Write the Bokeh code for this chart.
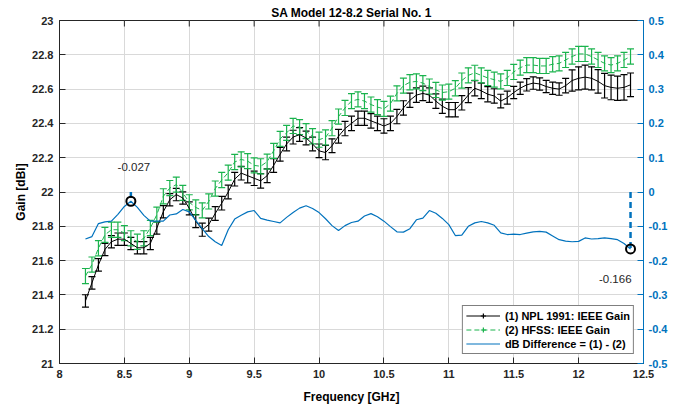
import math
from bokeh.plotting import figure
from bokeh.models import (Range1d, LinearAxis, FixedTicker, CustomJSTickFormatter,
                          ColumnDataSource, Whisker, TeeHead, Legend, LegendItem)
from bokeh.core.properties import value
from bokeh.embed import file_html
from bokeh.resources import INLINE

# ---------------- data ----------------
freq = [8.20, 8.25, 8.30, 8.35, 8.40, 8.45, 8.50, 8.55, 8.60, 8.65,
        8.70, 8.75, 8.80, 8.85, 8.90, 8.95, 9.00, 9.05, 9.10, 9.15,
        9.20, 9.25, 9.30, 9.35, 9.40, 9.45, 9.50, 9.55, 9.60, 9.65,
        9.70, 9.75, 9.80, 9.85, 9.90, 9.95, 10.00, 10.05, 10.10, 10.15,
        10.20, 10.25, 10.30, 10.35, 10.40, 10.45, 10.50, 10.55, 10.60, 10.65,
        10.70, 10.75, 10.80, 10.85, 10.90, 10.95, 11.00, 11.05, 11.10, 11.15,
        11.20, 11.25, 11.30, 11.35, 11.40, 11.45, 11.50, 11.55, 11.60, 11.65,
        11.70, 11.75, 11.80, 11.85, 11.90, 11.95, 12.00, 12.05, 12.10, 12.15,
        12.20, 12.25, 12.30, 12.35, 12.40]

npl_gain = [21.365, 21.47, 21.575, 21.665, 21.71, 21.725, 21.725, 21.70, 21.675, 21.675,
            21.70, 21.79, 21.885, 21.955, 21.985, 21.965, 21.905, 21.83, 21.78, 21.81,
            21.875, 21.935, 22.00, 22.075, 22.11, 22.095, 22.08, 22.065, 22.095, 22.155,
            22.22, 22.28, 22.32, 22.335, 22.315, 22.28, 22.24, 22.23, 22.27, 22.325,
            22.37, 22.40, 22.43, 22.43, 22.415, 22.40, 22.385, 22.40, 22.44, 22.49,
            22.535, 22.565, 22.575, 22.565, 22.53, 22.50, 22.48, 22.48, 22.52, 22.565,
            22.605, 22.59, 22.57, 22.56, 22.53, 22.55, 22.58, 22.605, 22.625, 22.635,
            22.63, 22.615, 22.605, 22.60, 22.62, 22.65, 22.663, 22.67, 22.663, 22.645,
            22.62, 22.61, 22.605, 22.61, 22.625]

npl_err = [0.036, 0.036, 0.036, 0.036, 0.036, 0.036, 0.036, 0.036, 0.036, 0.036,
           0.036, 0.036, 0.036, 0.036, 0.036, 0.036, 0.038, 0.038, 0.038, 0.038,
           0.040, 0.040, 0.040, 0.040, 0.040, 0.042, 0.042, 0.042, 0.040, 0.040,
           0.040, 0.040, 0.040, 0.040, 0.040, 0.040, 0.040, 0.042, 0.040, 0.040,
           0.042, 0.042, 0.042, 0.042, 0.042, 0.042, 0.042, 0.042, 0.042, 0.042,
           0.042, 0.042, 0.042, 0.042, 0.042, 0.042, 0.042, 0.042, 0.042, 0.044,
           0.045, 0.045, 0.044, 0.042, 0.040, 0.038, 0.036, 0.036, 0.036, 0.036,
           0.036, 0.036, 0.036, 0.036, 0.042, 0.062, 0.067, 0.070, 0.067, 0.069,
           0.072, 0.072, 0.071, 0.074, 0.069]

hfss_gain = [21.51, 21.577, 21.672, 21.75, 21.78, 21.78, 21.76, 21.73, 21.71, 21.73,
             21.79, 21.868, 21.975, 22.023, 22.043, 21.995, 21.94, 21.91, 21.893, 21.945,
             22.02, 22.07, 22.113, 22.175, 22.19, 22.18, 22.155, 22.15, 22.177, 22.24,
             22.31, 22.345, 22.385, 22.378, 22.355, 22.325, 22.305, 22.318, 22.372, 22.44,
             22.49, 22.53, 22.54, 22.53, 22.51, 22.495, 22.485, 22.515, 22.575, 22.62,
             22.64, 22.645, 22.635, 22.615, 22.595, 22.58, 22.585, 22.605, 22.65, 22.68,
             22.695, 22.68, 22.665, 22.655, 22.645, 22.665, 22.70, 22.725, 22.74, 22.74,
             22.735, 22.735, 22.745, 22.75, 22.77, 22.79, 22.805, 22.805, 22.79, 22.77,
             22.75, 22.74, 22.75, 22.77, 22.79]

hfss_err = [0.044] * 85

diff_db = [-0.137, -0.130, -0.092, -0.087, -0.085, -0.065, -0.042, -0.027, -0.045, -0.068,
           -0.085, -0.085, -0.085, -0.067, -0.064, -0.051, -0.058, -0.083, -0.107, -0.130,
           -0.145, -0.156, -0.110, -0.079, -0.068, -0.058, -0.054, -0.077, -0.082, -0.086,
           -0.090, -0.074, -0.060, -0.047, -0.040, -0.048, -0.060, -0.078, -0.098, -0.112,
           -0.098, -0.089, -0.085, -0.070, -0.063, -0.072, -0.085, -0.101, -0.116, -0.117,
           -0.107, -0.081, -0.076, -0.054, -0.062, -0.077, -0.095, -0.127, -0.126, -0.100,
           -0.090, -0.086, -0.090, -0.097, -0.119, -0.124, -0.123, -0.124, -0.120, -0.116,
           -0.115, -0.117, -0.128, -0.139, -0.143, -0.145, -0.144, -0.134, -0.137, -0.136,
           -0.134, -0.136, -0.139, -0.150, -0.166]

ann_freq = [8.55, 12.40]
ann_val = [-0.027, -0.166]
ann_text = ["-0.027", "-0.166"]

x_ticks = [8, 8.5, 9, 9.5, 10, 10.5, 11, 11.5, 12, 12.5]
y_ticks = [21, 21.2, 21.4, 21.6, 21.8, 22, 22.2, 22.4, 22.6, 22.8, 23]
r_ticks = [-0.5, -0.4, -0.3, -0.2, -0.1, 0, 0.1, 0.2, 0.3, 0.4, 0.5]

title_text = "SA Model 12-8.2 Serial No. 1"
x_label = "Frequency [GHz]"
y_label = "Gain [dBi]"
leg_labels = ["(1) NPL 1991: IEEE Gain", "(2) HFSS: IEEE Gain", "dB Difference = (1) - (2)"]

# ---------------- styles ----------------
FONT = "Liberation Sans"
AX = "#262626"
BLUE = "#0072BD"
GREEN = "#1AB34D"
GRID = "#d9d9d9"

X0, X1, Y0, Y1 = 8, 12.5, 21, 23

p = figure(width=683, height=406, output_backend="svg", toolbar_location=None,
           x_range=Range1d(X0, X1), y_range=Range1d(Y0, Y1),
           min_border_left=59, min_border_right=40, min_border_top=20, min_border_bottom=42)
p.extra_y_ranges = {"diff": Range1d(-0.5, 0.5)}
p.outline_line_color = AX
p.outline_line_width = 1
p.background_fill_color = "white"

p.title.text = title_text
p.title.align = "center"
p.title.text_font = FONT
p.title.text_font_size = "12px"
p.title.text_font_style = "bold"
p.title.text_color = "black"
p.title.standoff = 2

fmt = CustomJSTickFormatter(code="return String(Math.round(tick*1000)/1000);")

def style_axis(ax, color, ticks):
    ax.ticker = FixedTicker(ticks=ticks)
    ax.formatter = fmt
    ax.axis_line_color = color
    ax.major_tick_line_color = color
    ax.major_tick_in = 6
    ax.major_tick_out = 0
    ax.minor_tick_line_color = None
    ax.major_label_text_color = color
    ax.major_label_text_font = FONT
    ax.major_label_text_font_size = "11px"
    ax.major_label_text_font_style = "bold"
    ax.axis_label_text_font = FONT
    ax.axis_label_text_font_size = "12px"
    ax.axis_label_text_font_style = "bold"
    ax.axis_label_text_color = "black"

xa = p.below[0]
style_axis(xa, AX, x_ticks)
xa.axis_label = x_label
xa.major_label_standoff = 6
xa.axis_label_standoff = 9

ya = p.left[0]
style_axis(ya, AX, y_ticks)
ya.axis_label = y_label
ya.major_label_standoff = 6
ya.axis_label_standoff = 1

ra = LinearAxis(y_range_name="diff")
style_axis(ra, BLUE, r_ticks)
ra.major_label_standoff = 5
p.add_layout(ra, "right")

p.xgrid.ticker = FixedTicker(ticks=x_ticks)
p.ygrid.ticker = FixedTicker(ticks=y_ticks)
for g in (p.xgrid[0], p.ygrid[0]):
    g.grid_line_color = GRID
    g.grid_line_width = 1

# top-edge tick marks (box on): a cross centred on the top edge leaves a 6 px tick inside
p.scatter(x=x_ticks, y=[Y1] * len(x_ticks), marker="cross", size=12,
          line_color=AX, line_width=1)

# ---------------- series ----------------
src1 = ColumnDataSource(dict(x=freq, y=npl_gain,
                             lo=[g - e for g, e in zip(npl_gain, npl_err)],
                             hi=[g + e for g, e in zip(npl_gain, npl_err)]))
src2 = ColumnDataSource(dict(x=freq, y=hfss_gain,
                             lo=[g - e for g, e in zip(hfss_gain, hfss_err)],
                             hi=[g + e for g, e in zip(hfss_gain, hfss_err)]))

l1 = p.line("x", "y", source=src1, line_color="black", line_width=1)
w1 = Whisker(base="x", upper="hi", lower="lo", source=src1, line_color="black", line_width=1.2,
             upper_head=TeeHead(size=7, line_color="black", line_width=1.2),
             lower_head=TeeHead(size=7, line_color="black", line_width=1.2))
p.add_layout(w1)

l2 = p.line("x", "y", source=src2, line_color=GREEN, line_width=1, line_dash="5 3")
w2 = Whisker(base="x", upper="hi", lower="lo", source=src2, line_color=GREEN, line_width=1.2,
             upper_head=TeeHead(size=7, line_color=GREEN, line_width=1.2),
             lower_head=TeeHead(size=7, line_color=GREEN, line_width=1.2))
p.add_layout(w2)

l3 = p.line(freq, diff_db, y_range_name="diff", line_color=BLUE, line_width=1.2)

# stems and markers
p.segment(x0=ann_freq, y0=[0, 0], x1=ann_freq, y1=ann_val, y_range_name="diff",
          line_color=BLUE, line_width=2.5, line_dash="6 4")
p.scatter(ann_freq, ann_val, y_range_name="diff", marker="circle", size=9,
          fill_color=None, line_color="black", line_width=2)

p.text(x=[ann_freq[0]], y=[ann_val[0]], text=[ann_text[0]], y_range_name="diff",
       x_offset=3, y_offset=-34, text_align="center", text_baseline="middle",
       text_font=value(FONT), text_font_size="11.5px", text_color=AX)
p.text(x=[ann_freq[1]], y=[ann_val[1]], text=[ann_text[1]], y_range_name="diff",
       x_offset=1, y_offset=30, text_align="right", text_baseline="middle",
       text_font=value(FONT), text_font_size="11.5px", text_color=AX)

# legend-only glyphs (error bar symbol): one NaN row so the legend has a row to draw
nan = float("nan")
e1 = p.scatter(x=[nan], y=[nan], marker="cross", size=12,
               line_color="black", line_width=1.2)
e2 = p.scatter(x=[nan], y=[nan], marker="cross", size=12,
               line_color=GREEN, line_width=1.2)

legend = Legend(items=[LegendItem(label=leg_labels[0], renderers=[l1, e1], index=0),
                       LegendItem(label=leg_labels[1], renderers=[l2, e2], index=0),
                       LegendItem(label=leg_labels[2], renderers=[l3])],
                location="bottom_right")
legend.label_text_font = FONT
legend.label_text_font_size = "11px"
legend.label_text_font_style = "bold"
legend.label_text_color = "black"
legend.border_line_color = "black"
legend.border_line_width = 1
legend.background_fill_alpha = 1
legend.padding = 3
legend.spacing = 1
legend.margin = 9
legend.glyph_width = 34
legend.glyph_height = 13
legend.label_height = 13
legend.label_standoff = 5
p.add_layout(legend)

open("out.html", "w").write(file_html(p, INLINE))
